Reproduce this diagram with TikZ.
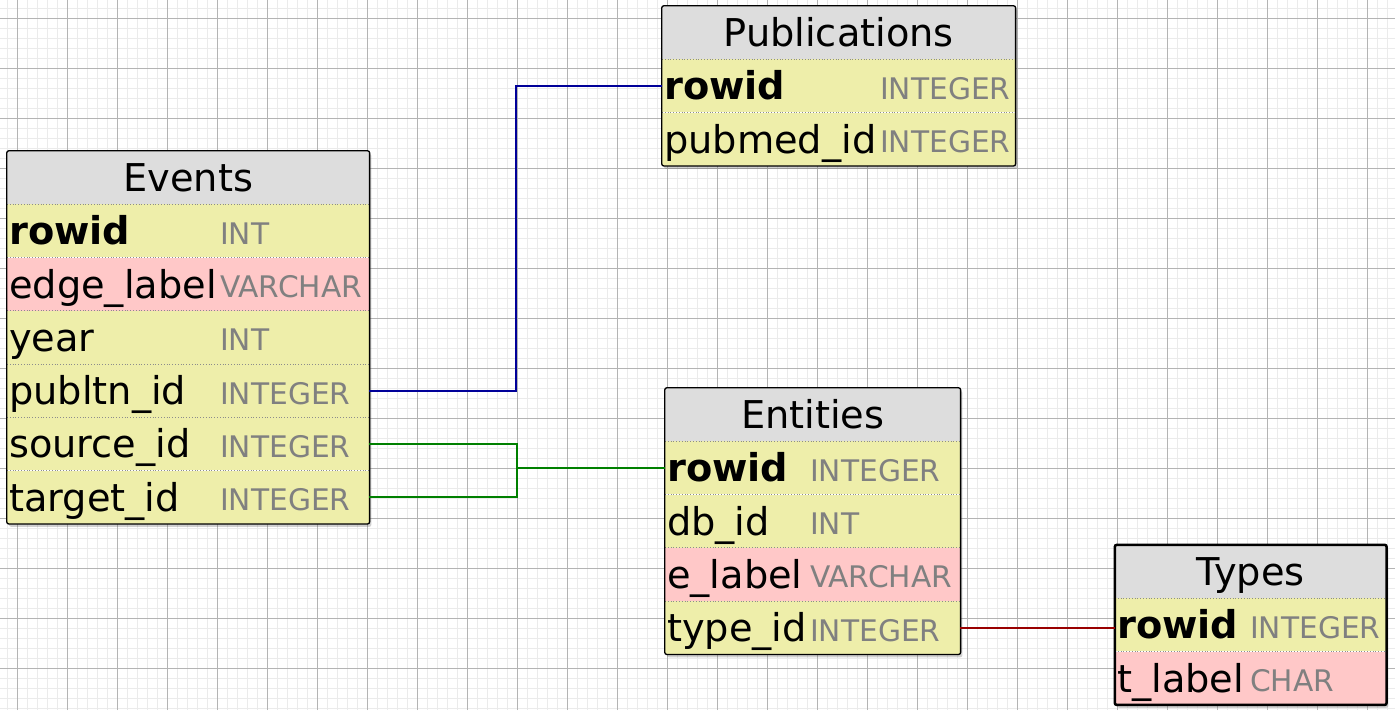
\documentclass[tikz,border=0pt]{standalone}
\usepackage{fontspec}
\setmainfont{DejaVu Sans}
\usetikzlibrary{positioning,fit,calc,shadows}
\definecolor{headgray}{HTML}{DDDDDD}
\definecolor{keyyellow}{HTML}{EEEEAA}
\definecolor{textpink}{HTML}{FFC8C8}
\definecolor{typegray}{HTML}{808080}
\definecolor{minorline}{HTML}{EBEBEB}
\definecolor{majorline}{HTML}{B4B4B4}
\definecolor{fkblue}{HTML}{000099}
\definecolor{fkgreen}{HTML}{008000}
\definecolor{fkred}{HTML}{990000}
\pgfdeclarelayer{paper}
\pgfdeclarelayer{shade}
\pgfsetlayers{paper,shade,main}
\tikzset{
  row/.style={rectangle, inner xsep=2pt, inner ysep=0pt, minimum height=52.85pt, text height=28pt, text depth=0pt, align=left, anchor=north, font=\fontsize{38.3pt}{46pt}\selectfont},
  head/.style={row, fill=headgray, align=center},
  keyrow/.style={row, fill=keyyellow, font=\fontsize{38.3pt}{46pt}\selectfont\bfseries},
  fieldrow/.style={row, fill=keyyellow},
  textrow/.style={row, fill=textpink},
  coltype/.style={anchor=base west, inner sep=0pt, text=typegray, font=\fontsize{29.7pt}{35pt}\selectfont},
  sep/.style={draw=black!45, dotted, line width=0.8pt},
  tableshade/.style={inner sep=0pt, fill=white, rounded corners=2pt, drop shadow={shadow xshift=2pt, shadow yshift=-3pt, opacity=0.3, fill=black!60}},
  tableborder/.style={draw=black, line width=1.3pt, rounded corners=2pt},
  fk/.style={line width=2pt}
}

\begin{document}
\begin{tikzpicture}[x=1pt, y=-1pt]
  \useasboundingbox (0,0) rectangle (1395,710);
  % squared paper
  \begin{pgfonlayer}{paper}
    \fill[white] (0,0) rectangle (1395,710);
    \begin{scope}[shift={(7,8)}]
      \draw[minorline, line width=1pt, step=10pt] (-7,-8) grid (1388,702);
    \end{scope}
    \begin{scope}[shift={(17,18)}]
      \draw[majorline, line width=1pt, step=50pt] (-17,-18) grid (1378,692);
    \end{scope}
  \end{pgfonlayer}

  % Events
  \begin{scope}[row/.append style={text width=358pt}]
    \node[head, anchor=north west] (events) at (7,151) {Events};
    \node[keyrow, below=0pt of events] (ev-rowid) {rowid};
    \node[textrow, below=0pt of ev-rowid] (ev-edge) {edge\_label};
    \node[fieldrow, below=0pt of ev-edge] (ev-year) {year};
    \node[fieldrow, below=0pt of ev-year] (ev-publtn) {publtn\_id};
    \node[fieldrow, below=0pt of ev-publtn] (ev-source) {source\_id};
    \node[fieldrow, below=0pt of ev-source] (ev-target) {target\_id};
  \end{scope}
  \node[coltype] (ev-rowid-t) at ([xshift=213pt,yshift=-13.5pt]ev-rowid.west) {INT};
  \node[coltype] (ev-edge-t) at ([xshift=213pt,yshift=-13.5pt]ev-edge.west) {VARCHAR};
  \node[coltype] (ev-year-t) at ([xshift=213pt,yshift=-13.5pt]ev-year.west) {INT};
  \node[coltype] (ev-publtn-t) at ([xshift=213pt,yshift=-13.5pt]ev-publtn.west) {INTEGER};
  \node[coltype] (ev-source-t) at ([xshift=213pt,yshift=-13.5pt]ev-source.west) {INTEGER};
  \node[coltype] (ev-target-t) at ([xshift=213pt,yshift=-13.5pt]ev-target.west) {INTEGER};
  \foreach \r in {rowid,edge,year,publtn,source,target}
    \draw[sep] (ev-\r.north west) -- (ev-\r.north east);
  \begin{pgfonlayer}{shade}
    \node[tableshade, fit=(events)(ev-target)] (ev-frame) {};
  \end{pgfonlayer}
  \draw[tableborder] (ev-frame.north west) rectangle (ev-frame.south east);

  % Publications
  \begin{scope}[row/.append style={text width=349pt}]
    \node[head, anchor=north west] (publications) at (662,6) {Publications};
    \node[keyrow, below=0pt of publications] (pub-rowid) {rowid};
    \node[fieldrow, below=0pt of pub-rowid] (pub-pubmed) {pubmed\_id};
  \end{scope}
  \node[coltype] (pub-rowid-t) at ([xshift=218pt,yshift=-13.5pt]pub-rowid.west) {INTEGER};
  \node[coltype] (pub-pubmed-t) at ([xshift=218pt,yshift=-13.5pt]pub-pubmed.west) {INTEGER};
  \foreach \r in {rowid,pubmed}
    \draw[sep] (pub-\r.north west) -- (pub-\r.north east);
  \begin{pgfonlayer}{shade}
    \node[tableshade, fit=(publications)(pub-pubmed)] (pub-frame) {};
  \end{pgfonlayer}
  \draw[tableborder] (pub-frame.north west) rectangle (pub-frame.south east);

  % Entities
  \begin{scope}[row/.append style={text width=291pt}]
    \node[head, anchor=north west] (entities) at (665,388) {Entities};
    \node[keyrow, below=0pt of entities] (ent-rowid) {rowid};
    \node[fieldrow, below=0pt of ent-rowid] (ent-db) {db\_id};
    \node[textrow, below=0pt of ent-db] (ent-label) {e\_label};
    \node[fieldrow, below=0pt of ent-label] (ent-type) {type\_id};
  \end{scope}
  \node[coltype] (ent-rowid-t) at ([xshift=145pt,yshift=-13.5pt]ent-rowid.west) {INTEGER};
  \node[coltype] (ent-db-t) at ([xshift=145pt,yshift=-13.5pt]ent-db.west) {INT};
  \node[coltype] (ent-label-t) at ([xshift=145pt,yshift=-13.5pt]ent-label.west) {VARCHAR};
  \node[coltype] (ent-type-t) at ([xshift=145pt,yshift=-13.5pt]ent-type.west) {INTEGER};
  \foreach \r in {rowid,db,label,type}
    \draw[sep] (ent-\r.north west) -- (ent-\r.north east);
  \begin{pgfonlayer}{shade}
    \node[tableshade, fit=(entities)(ent-type)] (ent-frame) {};
  \end{pgfonlayer}
  \draw[tableborder] (ent-frame.north west) rectangle (ent-frame.south east);

  % Types
  \begin{scope}[row/.append style={text width=267pt}]
    \node[head, anchor=north west] (types) at (1115,545) {Types};
    \node[keyrow, below=0pt of types] (ty-rowid) {rowid};
    \node[textrow, below=0pt of ty-rowid] (ty-label) {t\_label};
  \end{scope}
  \node[coltype] (ty-rowid-t) at ([xshift=135pt,yshift=-13.5pt]ty-rowid.west) {INTEGER};
  \node[coltype] (ty-label-t) at ([xshift=135pt,yshift=-13.5pt]ty-label.west) {CHAR};
  \foreach \r in {rowid,label}
    \draw[sep] (ty-\r.north west) -- (ty-\r.north east);
  \begin{pgfonlayer}{shade}
    \node[tableshade, fit=(types)(ty-label)] (ty-frame) {};
  \end{pgfonlayer}
  \draw[tableborder, line width=2.5pt] (ty-frame.north west) rectangle (ty-frame.south east);

  % foreign keys
  \draw[fk, fkblue] (ev-publtn.east) -| ($(ev-publtn.east)!.5!(pub-rowid.west)$) |- (pub-rowid.west);
  \coordinate (srcjoin) at ($(ev-source.east)!.5!(ent-rowid.west)$);
  \draw[fk, fkgreen] (ev-source.east) -| (srcjoin |- ev-target.east) -- (ev-target.east);
  \draw[fk, fkgreen] (srcjoin |- ent-rowid.west) -- (ent-rowid.west);
  \draw[fk, fkred] (ent-type.east) -- (ent-type.east -| ty-rowid.west);
\end{tikzpicture}
\end{document}
